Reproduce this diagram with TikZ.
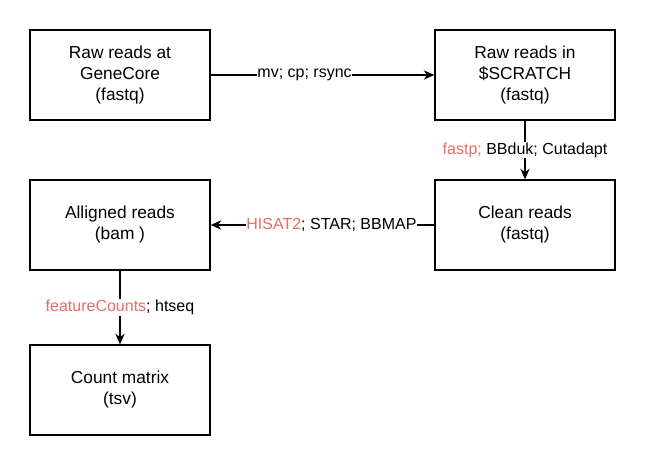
\documentclass[tikz,border=0pt]{standalone}
\usepackage{fontspec}
\setmainfont{Liberation Sans}
\usetikzlibrary{arrows.meta}
\definecolor{toolred}{HTML}{EA6B66}
\tikzset{
    stepbox/.style={draw, line width=1pt, minimum width=135pt, minimum height=67.5pt, align=center, font=\fontsize{13}{15.75}\selectfont, inner sep=0pt},
    flow/.style={draw, line width=0.9pt, -{Stealth[length=8pt,width=7pt]}},
    tool/.style={fill=white, inner sep=0.5pt, font=\fontsize{12}{14}\selectfont}
}
\begin{document}
\begin{tikzpicture}[x=0.75pt, y=-0.75pt]
            \useasboundingbox (0,0) rectangle (648,468);
            \node[stepbox] (gc) at (120, 75) {Raw reads at\\GeneCore\\(fastq)};
            \node[stepbox] (scratch) at (525, 75) {Raw reads in\\\$SCRATCH\\(fastq)};
            \node[stepbox] (clean) at (525, 225) {Clean reads\\(fastq)};
            \node[stepbox] (aligned) at (120, 225) {Alligned reads\\(bam )};
            \node[stepbox] (counts) at (120, 390) {Count matrix\\(tsv)};
            \draw[flow] (gc) -- node[tool, pos=0.42] {mv; cp; rsync} (scratch);
            \draw[flow] (scratch) -- node[tool, pos=0.5] {\textcolor{toolred}{fastp;} BBduk; Cutadapt} (clean);
            \draw[flow] (clean) -- node[tool, pos=0.46] {\textcolor{toolred}{HISAT2}; STAR; BBMAP} (aligned);
            \draw[flow] (aligned) -- node[tool, pos=0.5] {\textcolor{toolred}{featureCounts}; htseq} (counts);
        \end{tikzpicture}
\end{document}
